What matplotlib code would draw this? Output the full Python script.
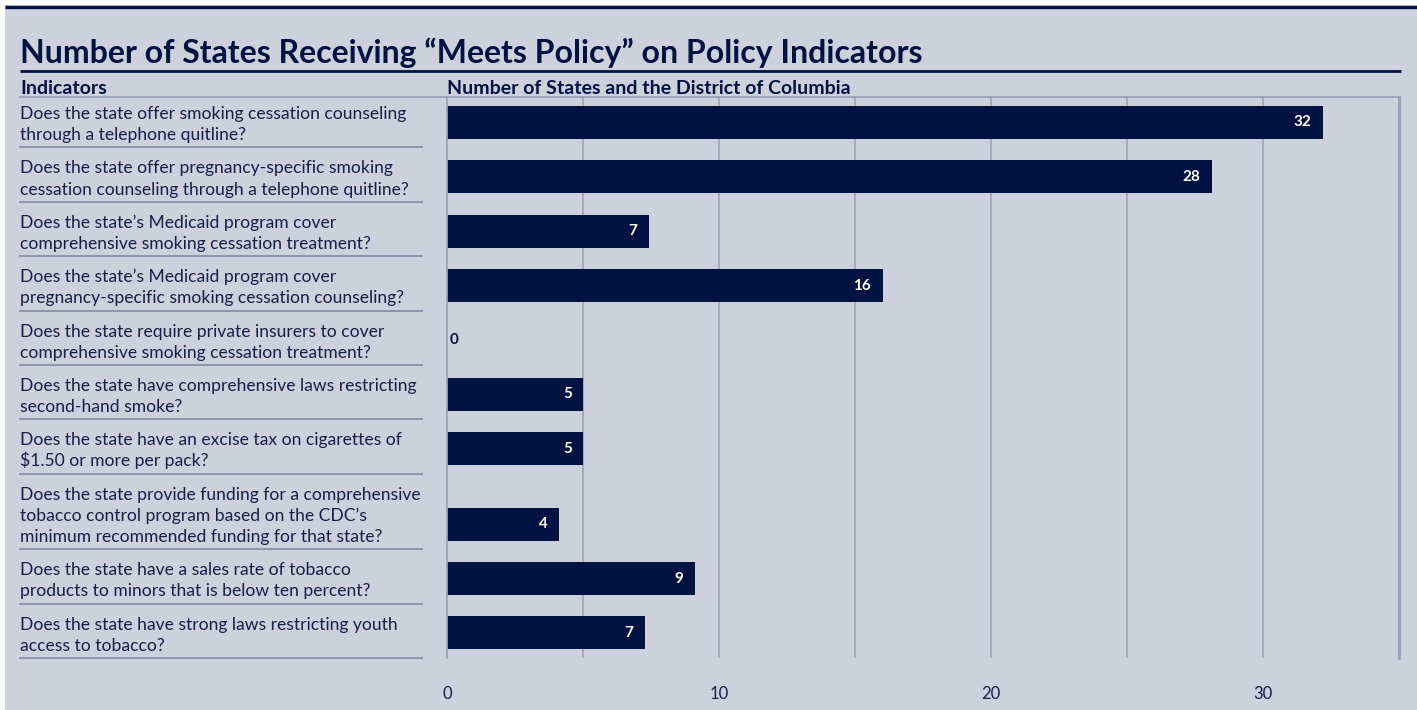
import matplotlib
matplotlib.use("Agg")
import matplotlib.pyplot as plt
from matplotlib.patches import Rectangle

# ── data ─────────────────────────────────────────────────────
TITLE = "Number of States Receiving \u201cMeets Policy\u201d on Policy Indicators"
LEFT_HEADER = "Indicators"
RIGHT_HEADER = "Number of States and the District of Columbia"

indicators = [
    "Does the state offer smoking cessation counseling\nthrough a telephone quitline?",
    "Does the state offer pregnancy-specific smoking\ncessation counseling through a telephone quitline?",
    "Does the state\u2019s Medicaid program cover\ncomprehensive smoking cessation treatment?",
    "Does the state\u2019s Medicaid program cover\npregnancy-specific smoking cessation counseling?",
    "Does the state require private insurers to cover\ncomprehensive smoking cessation treatment?",
    "Does the state have comprehensive laws restricting\nsecond-hand smoke?",
    "Does the state have an excise tax on cigarettes of\n$1.50 or more per pack?",
    "Does the state provide funding for a comprehensive\ntobacco control program based on the CDC\u2019s\nminimum recommended funding for that state?",
    "Does the state have a sales rate of tobacco\nproducts to minors that is below ten percent?",
    "Does the state have strong laws restricting youth\naccess to tobacco?",
]
# bar lengths as drawn in the picture
values = [32.2, 28.1, 7.4, 16, 0, 5, 5, 4.1, 9.1, 7.25]
value_labels = ["32", "28", "7", "16", "0", "5", "5", "4", "9", "7"]

x_ticks = [0, 10, 20, 30]
x_grid = [5, 10, 15, 20, 25, 30]
x_max = 35

# ── style ────────────────────────────────────────────────────
BG = "#CDD1DC"
NAVY = "#001242"
TEXT = "#15204A"
GRID = "#9DA2B8"
SEP = "#8A8FA8"
FONT = ["Lato", "DejaVu Sans"]

W, H = 1417, 710
fig = plt.figure(figsize=(W / 100, H / 100), dpi=100)
fig.patch.set_facecolor("white")

# full-figure overlay in pixel coords (y downward)
bg = fig.add_axes([0, 0, 1, 1])
bg.set_xlim(0, W)
bg.set_ylim(H, 0)
bg.axis("off")
bg.add_patch(Rectangle((5, 5), W - 5, H - 5, facecolor=BG, edgecolor="none"))
bg.plot([5, W], [6.5, 6.5], color=NAVY, lw=2.4, solid_capstyle="butt")

# title + rule
bg.text(20, 63, TITLE, family=FONT, fontweight="bold", fontsize=23,
        color=NAVY, va="baseline", ha="left")
bg.plot([20, 1401], [70.7, 70.7], color=NAVY, lw=2.0, solid_capstyle="butt")

# column headers + header rule
HEAD_Y = 97.3
bg.text(20, 93.5, LEFT_HEADER, family=FONT, fontweight="bold", fontsize=14,
        color=NAVY, va="baseline")
bg.text(447, 93.5, RIGHT_HEADER, family=FONT, fontweight="bold", fontsize=14,
        color=NAVY, va="baseline")
bg.plot([20, 1399], [HEAD_Y, HEAD_Y], color=GRID, lw=1.3)

# row layout: height grows with number of text lines
LINE_H = 21.0
ROW_PAD = 12.4
y = HEAD_Y - 4.3
seps, centers = [], []
for label in indicators:
    lines = label.split("\n")
    y += ROW_PAD + LINE_H * len(lines)
    seps.append(y)
    centers.append(y - 25)
    for j, line in enumerate(lines):
        base = y - 7.3 - (len(lines) - 1 - j) * LINE_H
        bg.text(20, base, line, family=FONT, fontsize=12.6, color=TEXT,
                va="baseline", ha="left")
    bg.plot([20, 422], [y, y], color=SEP, lw=1.3)

plot_bottom = seps[-1]

# ── bar axes ─────────────────────────────────────────────────
x0, x1 = 447.3, 1399.3
ax = fig.add_axes([x0 / W, 1 - plot_bottom / H, (x1 - x0) / W,
                   (plot_bottom - HEAD_Y) / H])
ax.patch.set_alpha(0)
ax.set_xlim(0, x_max)
ax.set_ylim(plot_bottom, HEAD_Y)
for s in ["top", "bottom"]:
    ax.spines[s].set_visible(False)
ax.spines["left"].set_color(GRID)
ax.spines["left"].set_linewidth(1.3)
ax.spines["right"].set_color(GRID)
ax.spines["right"].set_linewidth(2.2)
for g in x_grid:
    ax.axvline(g, color=GRID, lw=1.2, zorder=0)

ax.barh(centers, values, height=33, color=NAVY, zorder=2)
for c, v, lab in zip(centers, values, value_labels):
    if v > 1:
        ax.text(v - 0.42, c, lab, ha="right", va="center", color="white",
                family=FONT, fontweight="bold", fontsize=11, zorder=3)
    else:
        ax.text(v + 0.08, c, lab, ha="left", va="center", color=NAVY,
                family=FONT, fontweight="bold", fontsize=11, zorder=3)

ax.set_yticks([])
ax.set_xticks(x_ticks)
ax.set_xticklabels([str(t) for t in x_ticks], family=FONT, fontsize=12,
                   color=TEXT)
ax.tick_params(axis="x", length=0, pad=20)

fig.savefig("out.png", dpi=100, facecolor=fig.get_facecolor())
